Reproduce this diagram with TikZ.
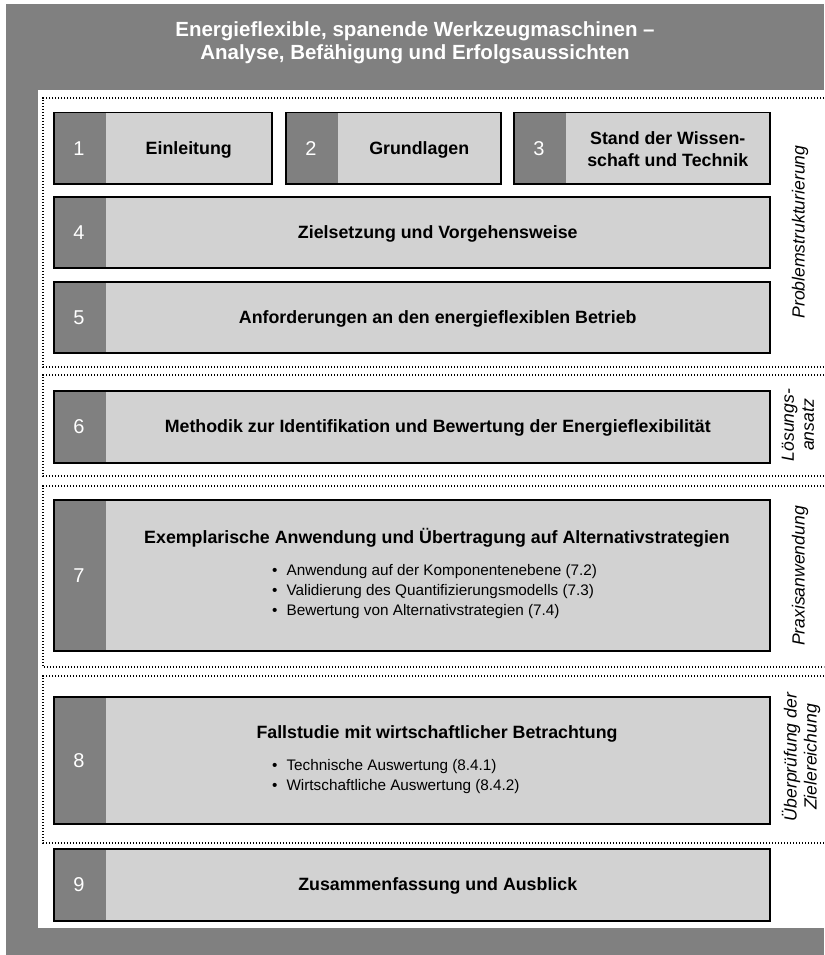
\documentclass[tikz,border=0pt]{standalone}
\usepackage{fontspec}
\setmainfont{Liberation Sans}
\definecolor{bggray}{RGB}{128,128,128}
\definecolor{darkgr}{RGB}{128,128,128}
\definecolor{lightgr}{RGB}{210,210,210}
\begin{document}
\begin{tikzpicture}[x=1pt,y=-1pt,
  chap/.style={draw=black, line width=1.5pt, fill=lightgr, inner sep=0pt, anchor=north west,
    path picture={\fill[darkgr] (path picture bounding box.north west)
      rectangle ([xshift=52pt]path picture bounding box.south west);}},
  num/.style={text=white, inner sep=0pt, font=\fontsize{20}{20}\selectfont},
  ttl/.style={inner sep=0pt, align=center, font=\bfseries\fontsize{17.8}{22.5}\selectfont},
  bul/.style={inner sep=0pt, align=left, anchor=west, font=\fontsize{15.3}{20}\selectfont},
  side/.style={inner sep=0pt, rotate=90, align=center, font=\itshape\fontsize{17.6}{20}\selectfont},
  grp/.style={line width=1.3pt, dash pattern=on 1.3pt off 1.7pt},
  head/.style={inner sep=0pt, align=center, text=white, font=\bfseries\fontsize{20.5}{22.5}\selectfont}
]
\useasboundingbox (0,0) rectangle (824,955);
% frame and panel
\fill[bggray] (6,4) rectangle (824,955);
\fill[white] (38,90) rectangle (824,928);
\node[head] (title) at (415,42.5) {Energieflexible, spanende Werkzeugmaschinen --\\Analyse, Befähigung und Erfolgsaussichten};

% dotted groups
\draw[grp] (824,98) -- (43,98) -- (43,367) -- (824,367);
\draw[grp] (824,375) -- (43,375) -- (43,476) -- (824,476);
\draw[grp] (824,486) -- (43,486) -- (43,667) -- (824,667);
\draw[grp] (824,676) -- (43,676) -- (43,843) -- (824,843);

% chapter boxes
\node[chap, minimum width=218pt, minimum height=71pt] (b1) at (53,112) {};
\node[chap, minimum width=215pt, minimum height=71pt] (b2) at (285,112) {};
\node[chap, minimum width=256pt, minimum height=71pt] (b3) at (513,112) {};
\node[chap, minimum width=716pt, minimum height=71pt] (b4) at (53,196) {};
\node[chap, minimum width=716pt, minimum height=71pt] (b5) at (53,281) {};
\node[chap, minimum width=716pt, minimum height=72pt] (b6) at (53,390) {};
\node[chap, minimum width=716pt, minimum height=151pt] (b7) at (53,499) {};
\node[chap, minimum width=716pt, minimum height=127pt] (b8) at (53,696) {};
\node[chap, minimum width=716pt, minimum height=72pt] (b9) at (53,848) {};

% chapter numbers
\foreach \i in {1,...,9} {
  \node[num] (n\i) at ([xshift=26pt]b\i.west) {\i};
}

% chapter titles
\node[ttl] (t1) at ([xshift=26pt,yshift=-1.5pt]b1.center) {Einleitung};
\node[ttl] (t2) at ([xshift=26pt,yshift=-1.5pt]b2.center) {Grundlagen};
\node[ttl] (t3) at ([xshift=26pt,yshift=-1pt]b3.center) {Stand der Wissen-\\schaft und Technik};
\node[ttl] (t4) at ([xshift=26pt,yshift=-1.5pt]b4.center) {Zielsetzung und Vorgehensweise};
\node[ttl] (t5) at ([xshift=26pt,yshift=-1.5pt]b5.center) {Anforderungen an den energieflexiblen Betrieb};
\node[ttl] (t6) at ([xshift=26pt,yshift=-1.5pt]b6.center) {Methodik zur Identifikation und Bewertung der Energieflexibilität};
\node[ttl] (t7) at (437,538) {Exemplarische Anwendung und Übertragung auf Alternativstrategien};
\node[bul] (l7) at (272,592) {\textbullet\hspace{9pt}Anwendung auf der Komponentenebene (7.2)\\
  \textbullet\hspace{9pt}Validierung des Quantifizierungsmodells (7.3)\\
  \textbullet\hspace{9pt}Bewertung von Alternativstrategien (7.4)};
\node[ttl] (t8) at (437,734) {Fallstudie mit wirtschaftlicher Betrachtung};
\node[bul] (l8) at (272,777) {\textbullet\hspace{9pt}Technische Auswertung (8.4.1)\\
  \textbullet\hspace{9pt}Wirtschaftliche Auswertung (8.4.2)};
\node[ttl] (t9) at ([xshift=26pt,yshift=-1.5pt]b9.center) {Zusammenfassung und Ausblick};

% phase labels
\node[side] (s1) at (800,232) {Problemstrukturierung};
\node[side] (s2) at (798,425) {Lösungs-\\ansatz};
\node[side] (s3) at (800,576) {Praxisanwendung};
\node[side] (s4) at (801,757) {Überprüfung der\\Zielereichung};
\end{tikzpicture}
\end{document}
